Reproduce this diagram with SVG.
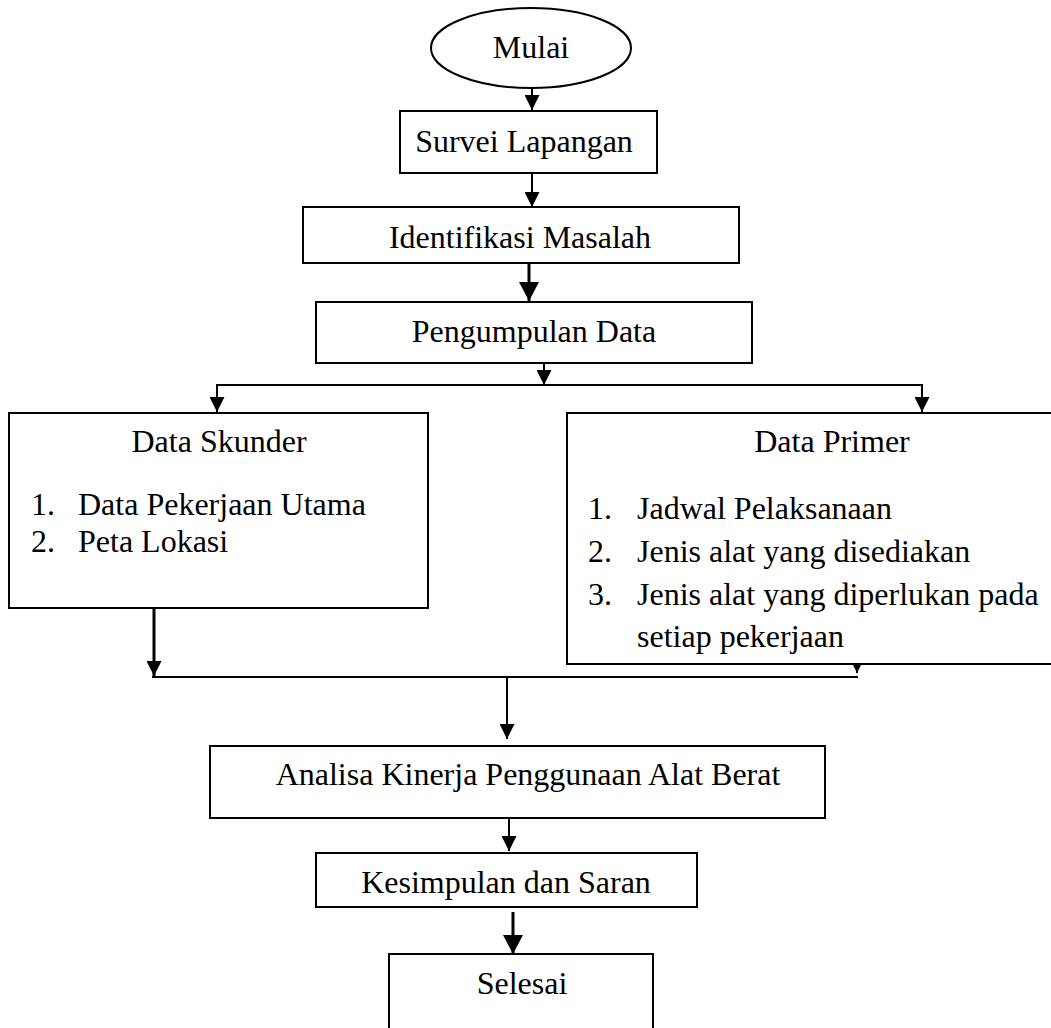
<svg xmlns="http://www.w3.org/2000/svg" width="1051" height="1028" viewBox="0 0 1051 1028">
<style>
.box{fill:#fff;stroke:#000;stroke-width:2}
.t{font-family:"Liberation Serif","Times New Roman",serif;font-size:32px;fill:#000}
.m{text-anchor:middle}
.c{fill:none;stroke:#000;stroke-width:2}
.ck{fill:none;stroke:#000;stroke-width:3}
</style>
<defs>
<marker id="a" markerUnits="userSpaceOnUse" markerWidth="15" markerHeight="15" refX="15" refY="7.5" orient="auto"><path d="M0,0 L15,7.5 L0,15 z" fill="#000"/></marker>
<marker id="aL" markerUnits="userSpaceOnUse" markerWidth="19" markerHeight="20" refX="19" refY="10" orient="auto"><path d="M0,0 L19,10 L0,20 z" fill="#000"/></marker>
<marker id="aS" markerUnits="userSpaceOnUse" markerWidth="13" markerHeight="13" refX="13" refY="6.5" orient="auto"><path d="M0,0 L13,6.5 L0,13 z" fill="#000"/></marker>
</defs>
<rect width="1051" height="1028" fill="#fff"/>
<g id="connectors">
<line class="c" x1="532" y1="88" x2="532" y2="110" marker-end="url(#a)"/>
<line class="c" x1="532" y1="173" x2="532" y2="207" marker-end="url(#a)"/>
<line class="ck" x1="529" y1="258" x2="529" y2="301" marker-end="url(#aL)"/>
<line class="c" x1="544" y1="363" x2="544" y2="385" marker-end="url(#a)"/>
<line class="c" x1="216" y1="385" x2="923" y2="385"/>
<line class="c" x1="217" y1="385" x2="217" y2="412" marker-end="url(#a)"/>
<line class="c" x1="922" y1="385" x2="922" y2="412" marker-end="url(#a)"/>
<line class="ck" x1="154" y1="599" x2="154" y2="676" marker-end="url(#a)"/>
<line class="c" x1="152" y1="677" x2="858" y2="677"/>
<line class="c" x1="857" y1="649" x2="857" y2="673" marker-end="url(#aS)"/>
<line class="c" x1="507" y1="677" x2="507" y2="739" marker-end="url(#a)"/>
<line class="c" x1="509" y1="812" x2="509" y2="851" marker-end="url(#a)"/>
<line class="ck" x1="513" y1="912" x2="513" y2="954" marker-end="url(#aL)"/>
</g>
<g id="mulai">
<ellipse cx="531" cy="48" rx="100" ry="40" class="box"/>
<text class="t m" x="531" y="58">Mulai</text>
</g>
<g id="survei">
<rect class="box" x="400" y="111" width="257" height="62"/>
<text class="t m" x="524" y="152">Survei Lapangan</text>
</g>
<g id="identifikasi">
<rect class="box" x="303" y="207" width="436" height="56"/>
<text class="t m" x="520" y="248">Identifikasi Masalah</text>
</g>
<g id="pengumpulan">
<rect class="box" x="316" y="302" width="436" height="61"/>
<text class="t m" x="534" y="342">Pengumpulan Data</text>
</g>
<g id="skunder">
<rect class="box" x="9" y="413" width="419" height="195"/>
<text class="t m" x="219" y="452">Data Skunder</text>
<text class="t" x="31" y="515">1.</text>
<text class="t" x="78" y="515">Data Pekerjaan Utama</text>
<text class="t" x="31" y="552">2.</text>
<text class="t" x="78" y="552">Peta Lokasi</text>
</g>
<g id="primer">
<rect class="box" x="567" y="413" width="500" height="251"/>
<text class="t m" x="832" y="452">Data Primer</text>
<text class="t" x="588" y="519">1.</text>
<text class="t" x="637" y="519">Jadwal Pelaksanaan</text>
<text class="t" x="588" y="562">2.</text>
<text class="t" x="637" y="562">Jenis alat yang disediakan</text>
<text class="t" x="588" y="605">3.</text>
<text class="t" x="637" y="605">Jenis alat yang diperlukan pada</text>
<text class="t" x="637" y="647">setiap pekerjaan</text>
</g>
<g id="analisa">
<rect class="box" x="210" y="746" width="615" height="72"/>
<text class="t m" x="528" y="785">Analisa Kinerja Penggunaan Alat Berat</text>
</g>
<g id="kesimpulan">
<rect class="box" x="316" y="853" width="381" height="54"/>
<text class="t m" x="506" y="893">Kesimpulan dan Saran</text>
</g>
<g id="selesai">
<rect class="box" x="389" y="954" width="264" height="100"/>
<text class="t m" x="522" y="994">Selesai</text>
</g>
</svg>
